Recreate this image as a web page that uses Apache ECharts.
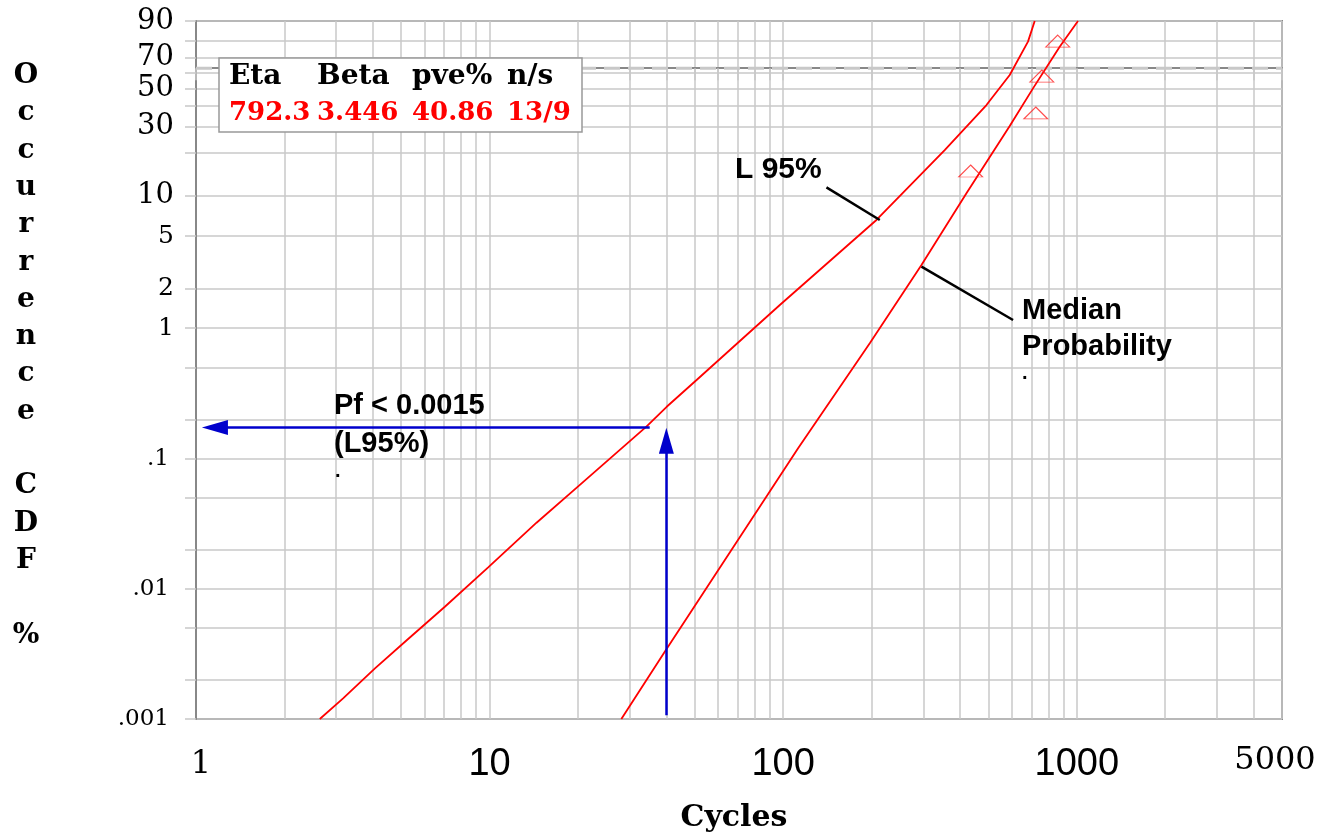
<!DOCTYPE html>
<html>
<head>
<meta charset="utf-8">
<script src="https://cdn.jsdelivr.net/npm/echarts@6/dist/echarts.min.js"></script>
<style>html,body{margin:0;padding:0;background:#fff}#c{width:1322px;height:835px}</style>
</head>
<body>
<div id="c"></div>
<script>
// ---------- data ----------
const xMinCycles = 1, xMaxCycles = 5000;
const xTickCycles = [1,2,3,4,5,6,7,8,9,10,20,30,40,50,60,70,80,90,100,200,300,400,500,600,700,800,900,1000,2000,3000,4000,5000];
const xLabelCycles = [1,10,100,1000,5000];
const xLabelText = ['1','10','100','1000','5000'];
const yMinCdf = 0.001, yMaxCdf = 90;
const yGridCdf = [90,80,70,60,50,40,30,20,10,5,2,1,0.5,0.2,0.1,0.05,0.02,0.01,0.005,0.002,0.001];
const yLabelCdf = [90,70,50,30,10,5,2,1,0.1,0.01,0.001];
const yLabelText = ['90','70','50','30','10','5','2','1','.1','.01','.001'];
const characteristicCdf = 63.2;

// Median probability (Weibull fit) line, cycles vs CDF %
const medianCycles = [28.1, 39.5, 52.0, 112.4, 197.2, 295.8, 420.9, 591, 709.4, 874.6, 1009.5];
const medianCdf    = [0.001, 0.00328, 0.00845, 0.120, 0.767, 3.03, 10.35, 30.2, 50.3, 76.8, 90];

// Lower 95% confidence bound
const l95Cycles = [2.64, 3.17, 4.07, 5.22, 7.04, 9.89, 14.45, 20.03, 34.2, 40.1, 50.7, 97.4, 207.8, 354.9, 492.4, 591, 682, 719];
const l95Cdf    = [0.001, 0.00144, 0.00245, 0.00403, 0.00728, 0.0146, 0.0322, 0.0612, 0.176, 0.250, 0.401, 1.504, 6.59, 20.9, 40.6, 58.8, 79.8, 90];

// Failure points (median ranks)
const failCycles = [435, 725, 760, 861];
const failCdf    = [14.97, 36.4, 58.1, 80.1];

// Blue reading arrows
const pfArrowCycles = [35.1, 1.16];
const pfArrowCdf    = [0.1735, 0.1735];
const lifeArrowCycles = [40, 40];
const lifeArrowCdf    = [0.00107, 0.1373];

// Black pointer lines
const l95PointerCycles = [140.4, 213.3];
const l95PointerCdf    = [11.44, 6.59];
const medPointerCycles = [295.8, 606.6];
const medPointerCdf    = [2.94, 1.155];

// Parameter table
const tableHeaders = ['Eta', 'Beta', 'pve%', 'n/s'];
const tableValues  = ['792.3', '3.446', '40.86', '13/9'];

const yAxisTitle = 'Occurrence CDF %';
const xAxisTitle = 'Cycles';

// ---------- helpers ----------
const wb = p => Math.log(-Math.log(1 - p / 100));   // Weibull probability scale
const lx = t => Math.log10(t);                        // log cycles
const toXY = (ts, ps) => ts.map((t, i) => [lx(t), wb(ps[i])]);

const SERIF = '"DejaVu Serif", "Liberation Serif", serif';
const SANS = '"Liberation Sans", Arial, sans-serif';
const GRID = '#c8c8c8';

const colW = [88, 95, 95, 66];
const richTable = {};
colW.forEach((w, i) => {
  richTable['h' + i] = {width: w, fontFamily: SERIF, fontWeight: 'bold', fontSize: 28, lineHeight: 36, height: 36, color: '#000'};
  richTable['v' + i] = {width: w, fontFamily: SERIF, fontWeight: 'bold', fontSize: 26, lineHeight: 36, height: 36, color: '#ff0000'};
});
const tableText = tableHeaders.map((h, i) => '{h' + i + '|' + h + '}').join('') + '\n' +
                  tableValues.map((v, i) => '{v' + i + '|' + v + '}').join('');

const nearest = (vals, v, f) => {
  let best = 0;
  vals.forEach((c, i) => { if (Math.abs(f(c) - v) < Math.abs(f(vals[best]) - v)) best = i; });
  return best;
};

const chart = echarts.init(document.getElementById('c'), null, {renderer: 'canvas'});
chart.setOption({
  animation: false,
  backgroundColor: '#fff',
  grid: {left: 196, right: 40, top: 21, bottom: 116, show: true, borderColor: '#888', borderWidth: 2, outerBoundsMode: 'none'},
  title: {
    left: 219, top: 58,
    text: tableText,
    padding: [1, 9, 1, 10],
    backgroundColor: '#fff', borderColor: '#999', borderWidth: 1.5,
    textStyle: {lineHeight: 36, rich: richTable}
  },
  xAxis: {
    type: 'value', min: lx(xMinCycles), max: lx(xMaxCycles),
    axisLine: {show: true, lineStyle: {color: '#888', width: 2}},
    axisTick: {show: true, customValues: xTickCycles.map(lx), length: 12, lineStyle: {color: GRID, width: 1.5}},
    splitLine: {show: true, lineStyle: {color: GRID, width: 1.5}},
    axisLabel: {
      customValues: xLabelCycles.map(lx), margin: 26,
      formatter: v => {
        const i = nearest(xLabelCycles, v, lx);
        const txt = xLabelText[i];
        if (i === 0) return '{s1|' + txt + '}';
        if (i === xLabelCycles.length - 1) return '{s5|' + txt + '}';
        return '{a|' + txt + '}';
      },
      rich: {
        a: {fontFamily: SANS, fontSize: 38, color: '#000', lineHeight: 40},
        s1: {fontFamily: SERIF, fontSize: 32, color: '#000', lineHeight: 40, padding: [0, 0, 0, 10]},
        s5: {fontFamily: SERIF, fontSize: 32, color: '#000', lineHeight: 32, padding: [0, 14, 0, 0]}
      }
    },
    name: xAxisTitle, nameLocation: 'middle', nameGap: 84,
    nameTextStyle: {fontFamily: SERIF, fontWeight: 'bold', fontSize: 30, color: '#000', padding: [0, 10, 0, 0]}
  },
  yAxis: {
    type: 'value', min: wb(yMinCdf), max: wb(yMaxCdf),
    axisLine: {show: true, lineStyle: {color: '#888', width: 2}},
    axisTick: {show: true, customValues: yGridCdf.map(wb), length: 11, lineStyle: {color: GRID, width: 1.5}},
    splitLine: {show: true, lineStyle: {color: GRID, width: 1.5}},
    axisLabel: {
      customValues: yLabelCdf.map(wb), margin: 22,
      formatter: v => {
        const i = nearest(yLabelCdf, v, wb);
        const p = yLabelCdf[i];
        const key = p >= 10 ? 'b' : (p >= 1 ? 'm' : 's');
        return '{' + key + '|' + yLabelText[i] + '}';
      },
      rich: {
        b: {fontFamily: SERIF, fontSize: 29, color: '#000'},
        m: {fontFamily: SERIF, fontSize: 25, color: '#000'},
        s: {fontFamily: SERIF, fontSize: 23, color: '#000', padding: [0, 5, 0, 0]}
      }
    }
  },
  series: [
    {
      type: 'line', name: 'characteristic life 63.2%', z: 2, silent: true,
      data: [[lx(xMinCycles), wb(characteristicCdf)], [lx(xMaxCycles), wb(characteristicCdf)]],
      showSymbol: false, symbol: 'none',
      itemStyle: {color: '#c8c8c8'},
      lineStyle: {color: '#c8c8c8', type: [16, 8], width: 3, cap: 'butt', opacity: 1}
    },
    {
      type: 'line', name: 'Median Probability', data: toXY(medianCycles, medianCdf),
      showSymbol: false, smooth: false, z: 3,
      lineStyle: {color: '#ff0000', width: 1.8}
    },
    {
      type: 'line', name: 'L 95%', data: toXY(l95Cycles, l95Cdf),
      showSymbol: false, smooth: false, z: 3,
      lineStyle: {color: '#ff0000', width: 1.8}
    },
    {
      type: 'scatter', name: 'Failures', data: toXY(failCycles, failCdf), z: 4,
      symbol: 'triangle', symbolSize: [24, 12],
      itemStyle: {color: 'rgba(255,255,255,0)', borderColor: '#ff2020', borderWidth: 1}
    },
    {
      type: 'lines', coordinateSystem: 'cartesian2d', name: 'arrows', z: 5,
      symbol: ['none', 'triangle'], symbolSize: [[15, 26], [15, 26]],
      lineStyle: {color: '#0000cc', width: 2.5, opacity: 1},
      data: [
        {coords: toXY(pfArrowCycles, pfArrowCdf)},
        {coords: toXY(lifeArrowCycles, lifeArrowCdf)}
      ]
    },
    {
      type: 'lines', coordinateSystem: 'cartesian2d', name: 'pointers', z: 5,
      symbol: ['none', 'none'],
      lineStyle: {color: '#000', width: 2.5, opacity: 1},
      data: [
        {coords: toXY(l95PointerCycles, l95PointerCdf)},
        {coords: toXY(medPointerCycles, medPointerCdf)}
      ]
    }
  ],
  graphic: [
    {type: 'text', x: 26, y: 355.5, z: 10, style: {text: yAxisTitle.split('').join('\n'), font: 'bold 28px "DejaVu Serif", serif', lineHeight: 37.3, fill: '#000', align: 'center', verticalAlign: 'middle'}},
    {type: 'text', x: 735, y: 170, z: 10, style: {text: 'L 95%', font: 'bold 30px "Liberation Sans", Arial, sans-serif', fill: '#000', verticalAlign: 'middle'}},
    {type: 'text', x: 1022, y: 329, z: 10, style: {text: 'Median\nProbability', font: 'bold 29px "Liberation Sans", Arial, sans-serif', lineHeight: 36, fill: '#000', verticalAlign: 'middle'}},
    {type: 'text', x: 1022, y: 373, z: 10, style: {text: '.', font: 'bold 20px "Liberation Sans", Arial, sans-serif', fill: '#000', verticalAlign: 'middle'}},
    {type: 'text', x: 334, y: 425, z: 10, style: {text: 'Pf < 0.0015\n(L95%)', font: 'bold 29px "Liberation Sans", Arial, sans-serif', lineHeight: 38, fill: '#000', verticalAlign: 'middle'}},
    {type: 'text', x: 335, y: 471, z: 10, style: {text: '.', font: 'bold 20px "Liberation Sans", Arial, sans-serif', fill: '#000', verticalAlign: 'middle'}}
  ]
});
</script>
</body>
</html>
